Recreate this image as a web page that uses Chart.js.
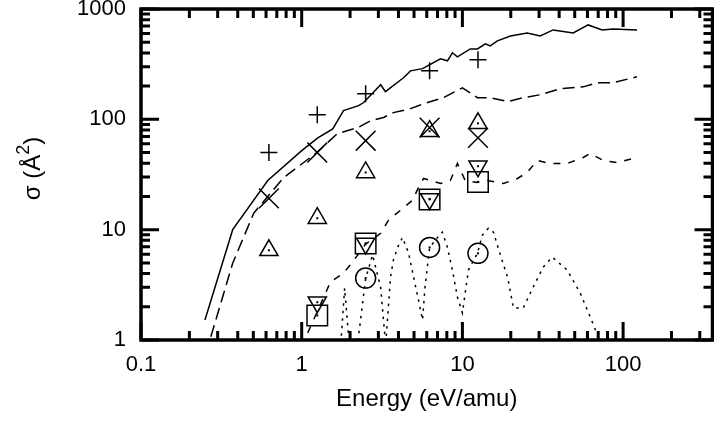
<!DOCTYPE html>
<html>
<head>
<meta charset="utf-8">
<script src="https://cdn.jsdelivr.net/npm/chart.js@4.4.0/dist/chart.umd.min.js"></script>
<style>
  body { margin: 0; background: #fff; }
  canvas { display: block; }
</style>
</head>
<body>
<canvas id="sigmaChart" width="714" height="422"></canvas>
<script>
// AXIS TICK LABELS
const xTicks = [0.1, 1, 10, 100];
const yTicks = [1, 10, 100, 1000];

// SOLID CURVE
const solidE = [0.25, 0.372, 0.615, 1.0, 1.26, 1.56, 1.82, 2.26, 2.43, 3.10, 3.32, 4.30, 4.75, 5.65, 7.30, 8.07, 8.67, 9.31, 11.2, 12.4, 13.9, 14.9, 16.5, 19.9, 25.3, 30.5, 36.7, 48.9, 60.6, 74.1, 86.7, 122];
const solidS = [1.52, 10, 27.9, 52, 68, 82, 120, 133, 142, 206, 178, 238, 275, 288, 353, 339, 401, 368, 435, 435, 483, 463, 514, 570, 607, 570, 646, 607, 717, 646, 660, 646];

// LONG DASHED CURVE
const longE = [0.272, 0.372, 0.503, 0.615, 0.773, 1.22, 1.67, 2.23, 2.68, 3.23, 3.72, 4.75, 6.07, 7.62, 10, 12.4, 14.9, 19.1, 23.9, 30.5, 40.6, 56.5, 69, 86.7, 122];
const longS = [1.07, 4.97, 14.1, 20, 29.7, 49, 74.3, 84, 97, 104, 115, 125, 142, 157, 193, 157, 157, 145, 157, 167, 189, 197, 215, 215, 243];

// SHORT DASHED CURVE
const shortE = [1.09, 1.51, 1.82, 2.07, 2.5, 3.10, 3.47, 4.12, 4.89, 5.33, 5.73, 7.30, 8.42, 9.31, 10.4, 12.4, 14.3, 18, 22, 25.3, 29.2, 35.2, 44.9, 56.5, 62.4, 75.2, 91.8, 122];
const shortS = [1.16, 3.35, 4.04, 5.08, 7.4, 9.27, 12.2, 15, 18.5, 24.1, 29.1, 26.2, 27.9, 39.8, 27.9, 26.8, 27.9, 26.2, 29.1, 33, 42.4, 39.8, 39.8, 45.1, 49, 42.4, 40.6, 45.1];

// DOTTED CURVE
const dotE = [1.74, 1.85, 1.99, 2.2, 2.5, 2.76, 3.10, 3.33, 3.57, 3.72, 3.95, 4.24, 4.63, 4.97, 5.33, 5.65, 5.85, 6.25, 7.0, 7.5, 8.07, 8.67, 9.31, 10, 10.9, 12.4, 13.3, 14.5, 15.6, 17.1, 19.1, 20.8, 23.9, 27.6, 31.8, 36.2, 44.9, 54.1, 62.4, 70, 75];
const dotS = [0.8, 2.95, 0.8, 0.8, 3.6, 5.9, 3.0, 0.9, 3.71, 5.3, 6.9, 8.5, 6.1, 3.71, 2.3, 1.52, 3.0, 6.9, 8.5, 9.5, 6.9, 4.3, 2.45, 1.76, 4.3, 6.1, 8.9, 10.3, 9.5, 6.1, 3.71, 1.95, 1.95, 3.02, 4.57, 5.64, 4.3, 2.66, 1.62, 1.07, 0.8];

// MEASURED POINTS
const markE = [0.625, 1.25, 2.5, 6.25, 12.5];
const plusS = [50, 110, 171, 275, 346];
const crossS = [19.2, 50, 64, 84, 68];
const triUpS = [6.5, 12.7, 33, 78, 92];
const subE = [1.25, 2.5, 6.25, 12.5];
const triDownS = [2.2, 7.5, 19, 37.6];
const squareS = [1.67, 7.5, 18.8, 27.1];
const circleE = [2.5, 6.25, 12.5];
const circleS = [3.64, 6.9, 6.1];

const FONT = 'Liberation Sans, Arial, sans-serif';
const toPoints = (xs, ys) => xs.map((x, i) => ({ x: x, y: ys[i] }));

function curve(xs, ys, dash) {
  return {
    data: toPoints(xs, ys),
    showLine: true,
    borderColor: '#000',
    borderWidth: 1.5,
    borderDash: dash,
    pointRadius: 0,
    fill: false,
    tension: 0
  };
}

function marks(xs, ys, style, radius, rotation, dot) {
  return {
    data: toPoints(xs, ys),
    showLine: false,
    pointStyle: style,
    pointRadius: radius,
    pointRotation: rotation,
    pointBorderColor: '#000',
    pointBackgroundColor: 'rgba(0,0,0,0)',
    pointBorderWidth: 1.5,
    centerDot: dot
  };
}

// frame with inward log ticks on all four sides
const frameTicks = {
  id: 'frameTicks',
  afterDraw(chart) {
    const { ctx, chartArea: a, scales: { x, y } } = chart;
    const logTicks = (scale) => {
      const out = [];
      for (let d = Math.floor(Math.log10(scale.min)); d <= Math.ceil(Math.log10(scale.max)); d++) {
        for (let m = 1; m < 10; m++) {
          const v = m * Math.pow(10, d);
          if (v >= scale.min * 0.999 && v <= scale.max * 1.001) out.push({ v: v, major: m === 1 });
        }
      }
      return out;
    };
    ctx.save();
    ctx.strokeStyle = '#000';
    ctx.lineWidth = 3;
    ctx.beginPath();
    logTicks(x).forEach(t => {
      const px = x.getPixelForValue(t.v);
      const len = t.major ? 18 : 9;
      ctx.moveTo(px, a.bottom); ctx.lineTo(px, a.bottom - len);
      ctx.moveTo(px, a.top); ctx.lineTo(px, a.top + len);
    });
    logTicks(y).forEach(t => {
      const py = y.getPixelForValue(t.v);
      const len = t.major ? 18 : 9;
      ctx.moveTo(a.left, py); ctx.lineTo(a.left + len, py);
      ctx.moveTo(a.right, py); ctx.lineTo(a.right - len, py);
    });
    ctx.stroke();
    ctx.lineWidth = 3.5;
    ctx.strokeRect(a.left, a.top, a.right - a.left, a.bottom - a.top);
    ctx.restore();
  }
};

// y title with a real superscript
const yTitle = {
  id: 'yTitle',
  afterDraw(chart) {
    const { ctx, chartArea: a } = chart;
    const big = '24px ' + FONT, small = '18px ' + FONT;
    const parts = [['σ (Å', big, 0], ['2', small, -9], [')', big, 0]];
    ctx.save();
    ctx.translate(33, (a.top + a.bottom) / 2 - 6);
    ctx.rotate(-Math.PI / 2);
    ctx.fillStyle = '#000';
    ctx.textBaseline = 'middle';
    ctx.textAlign = 'left';
    let w = 0;
    parts.forEach(p => { ctx.font = p[1]; w += ctx.measureText(p[0]).width; });
    let cx = -w / 2;
    parts.forEach(p => {
      ctx.font = p[1];
      ctx.fillText(p[0], cx, p[2]);
      cx += ctx.measureText(p[0]).width;
    });
    ctx.restore();
  }
};

// small dot in the middle of open symbols
const centerDots = {
  id: 'centerDots',
  afterDatasetsDraw(chart) {
    const ctx = chart.ctx;
    ctx.save();
    ctx.fillStyle = '#000';
    chart.data.datasets.forEach((ds, i) => {
      if (!ds.centerDot) return;
      chart.getDatasetMeta(i).data.forEach(pt => {
        ctx.fillRect(pt.x - 1, pt.y - 1, 2, 2);
      });
    });
    ctx.restore();
  }
};

// drop the label overhang padding so the plot box fills the canvas
const noPad = (s) => {
  s.paddingTop = 0; s.paddingBottom = 0; s.paddingLeft = 0; s.paddingRight = 0;
  if (s._margins) { s._margins.top = 0; s._margins.bottom = 0; s._margins.left = 0; s._margins.right = 0; }
};

const ctx = document.getElementById('sigmaChart').getContext('2d');
new Chart(ctx, {
  type: 'scatter',
  data: {
    datasets: [
      curve(solidE, solidS, []),
      curve(longE, longS, [12, 6]),
      curve(shortE, shortS, [7, 8]),
      curve(dotE, dotS, [2.5, 5]),
      marks(markE, plusS, 'cross', 8.5, 0, false),
      marks(markE, crossS, 'crossRot', 14, 0, false),
      marks(markE, triUpS, 'triangle', 10.5, 0, true),
      marks(subE, triDownS, 'triangle', 10.5, 180, true),
      marks(subE, squareS, 'rect', 14.5, 0, true),
      marks(circleE, circleS, 'circle', 10, 0, true)
    ]
  },
  options: {
    responsive: false,
    animation: false,
    events: [],
    layout: { autoPadding: false, padding: { top: 9, right: 1.5, left: 0, bottom: 0 } },
    plugins: {
      legend: { display: false },
      tooltip: { enabled: false }
    },
    scales: {
      x: {
        type: 'logarithmic',
        min: 0.1,
        max: 360,
        grid: { display: false, drawTicks: false },
        border: { display: false },
        afterBuildTicks: (s) => { s.ticks = xTicks.map(v => ({ value: v })); },
        afterFit: (s) => { s.height = 82; noPad(s); },
        ticks: {
          padding: 12,
          color: '#000',
          font: { family: FONT, size: 22 },
          maxRotation: 0,
          autoSkip: false,
          callback: (v) => String(v)
        },
        title: {
          display: true,
          text: 'Energy (eV/amu)',
          color: '#000',
          font: { family: FONT, size: 24 },
          padding: { top: 0, bottom: 8 }
        }
      },
      y: {
        type: 'logarithmic',
        min: 1,
        max: 1000,
        grid: { display: false, drawTicks: false },
        border: { display: false },
        afterBuildTicks: (s) => { s.ticks = yTicks.map(v => ({ value: v })); },
        afterFit: (s) => { s.width = 141; noPad(s); },
        ticks: {
          padding: 15,
          color: '#000',
          font: { family: FONT, size: 22 },
          autoSkip: false,
          callback: (v) => String(v)
        },
        title: { display: false }
      }
    }
  },
  plugins: [frameTicks, yTitle, centerDots]
});
</script>
</body>
</html>
